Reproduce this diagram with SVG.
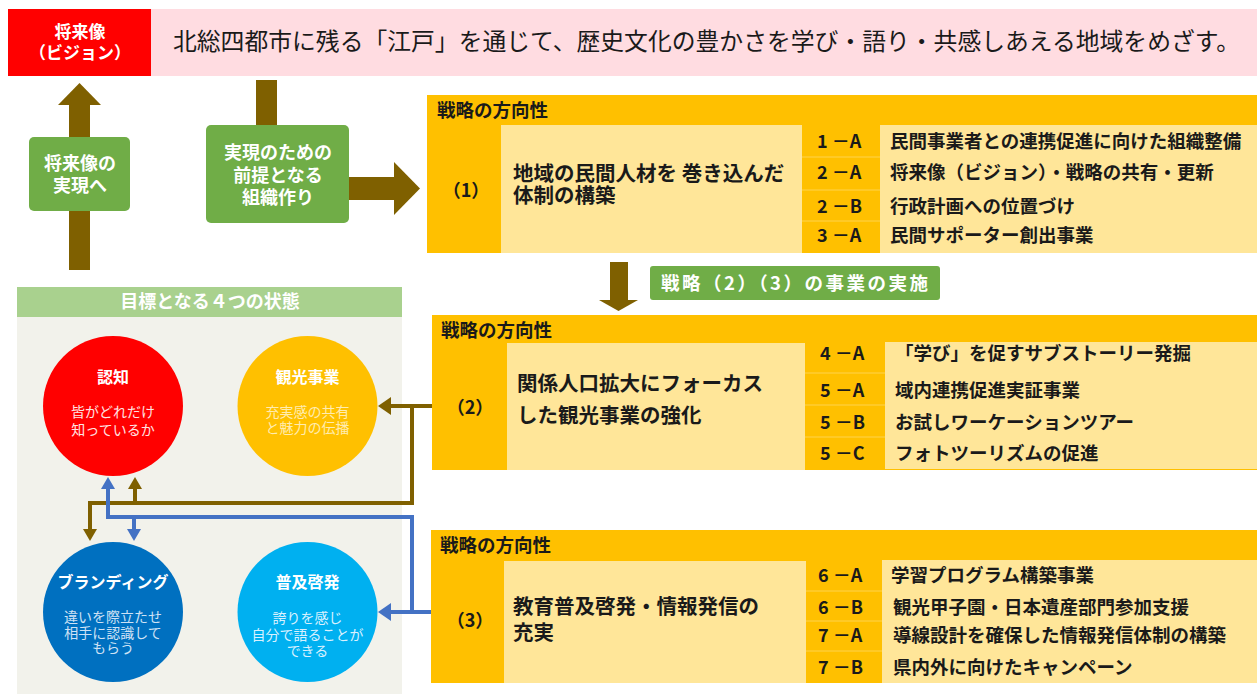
<svg xmlns="http://www.w3.org/2000/svg" width="1257" height="694" viewBox="0 0 1257 694">
<style>
text{font-family:"Noto Sans CJK JP","Noto Sans CJK SC",sans-serif;}
.b{font-weight:bold;}
.w{fill:#ffffff;}
.hdr{font-size:18.5px;font-weight:bold;fill:#1a1a1a;}
.num{font-size:18px;font-weight:bold;fill:#1a1a1a;text-anchor:middle;}
.main{font-size:20.5px;font-weight:bold;fill:#1a1a1a;}
.code{font-size:18px;font-weight:bold;fill:#1a1a1a;}
.item{font-size:18.5px;font-weight:bold;fill:#1a1a1a;}
.yel{fill:#FFC000;}
.lt{fill:#FFE699;}
.grn{fill:#70AD47;}
.sep{stroke:#FFD34D;stroke-width:1;}
.ctitle{font-size:16px;font-weight:bold;fill:#ffffff;text-anchor:middle;}
.csub{font-size:14px;text-anchor:middle;}
.brn{fill:#7F6000;}
.lb{stroke:#7F6000;stroke-width:4;fill:none;}
.lbl{stroke:#4472C4;stroke-width:4;fill:none;}
</style>

<rect x="0" y="0" width="1257" height="694" fill="#ffffff"/>

<g id="vision">
  <rect x="8" y="9" width="143" height="67" fill="#FF0000"/>
  <text class="b w" font-size="17" text-anchor="middle"><tspan x="80" y="38">将来像</tspan><tspan x="80" y="59">（ビジョン）</tspan></text>
</g>
<g id="vision-text">
  <rect x="151" y="9" width="1106" height="67" fill="#FFDCE1"/>
  <text x="173" y="50" font-size="23.5" fill="#1a1a1a" textLength="1067" lengthAdjust="spacingAndGlyphs">北総四都市に残る「江戸」を通じて、歴史文化の豊かさを学び・語り・共感しあえる地域をめざす。</text>
</g>

<g id="arrows-big">
  <rect x="69" y="104" width="21" height="166" class="brn"/>
  <polygon points="58,105 101,105 79.5,83" class="brn"/>
  <rect x="256" y="80" width="21" height="46" class="brn"/>
  <rect x="348" y="177" width="47" height="23" class="brn"/>
  <polygon points="394,162 394,215 420,188.5" class="brn"/>
  <rect x="610" y="262" width="18" height="39" class="brn"/>
  <polygon points="599,300 638,300 618.5,311" class="brn"/>
</g>

<g id="realize">
  <rect x="29" y="137" width="101" height="74" rx="5" class="grn"/>
  <text class="b w" font-size="18" text-anchor="middle"><tspan x="80" y="170">将来像の</tspan><tspan x="80" y="192">実現へ</tspan></text>
</g>

<g id="org">
  <rect x="206" y="125" width="143" height="98" rx="5" class="grn"/>
  <text class="b w" font-size="18" text-anchor="middle"><tspan x="278" y="159">実現のための</tspan><tspan x="278" y="181.5">前提となる</tspan><tspan x="278" y="204">組織作り</tspan></text>
</g>

<g id="strategy1">
  <rect x="427" y="95" width="830" height="158" class="yel"/>
  <text x="437" y="117" class="hdr">戦略の方向性</text>
  <rect x="501" y="125" width="301" height="128" class="lt"/>
  <rect x="880" y="125" width="377" height="128" class="lt"/>
  <line x1="802" y1="157" x2="880" y2="157" class="sep"/>
  <line x1="802" y1="190" x2="880" y2="190" class="sep"/>
  <line x1="802" y1="221" x2="880" y2="221" class="sep"/>
  <text x="466" y="197" class="num">（1）</text>
  <text class="main"><tspan x="513" y="181">地域の民間人材を 巻き込んだ</tspan><tspan x="513" y="203">体制の構築</tspan></text>
  <text x="817" y="148" class="code">1 －A</text>
  <text x="817" y="179" class="code">2 －A</text>
  <text x="817" y="213" class="code">2 －B</text>
  <text x="817" y="242" class="code">3 －A</text>
  <text x="890" y="148" class="item">民間事業者との連携促進に向けた組織整備</text>
  <text x="890" y="179" class="item">将来像（ビジョン）・戦略の共有・更新</text>
  <text x="890" y="213" class="item">行政計画への位置づけ</text>
  <text x="890" y="242" class="item">民間サポーター創出事業</text>
</g>

<g id="implement">
  <rect x="650" y="266" width="290" height="34" rx="3" class="grn"/>
  <text x="661" y="290" class="b w" font-size="18.5" textLength="267">戦略（2）（3）の事業の実施</text>
</g>

<g id="strategy2">
  <rect x="432" y="315" width="825" height="155" class="yel"/>
  <text x="441" y="337" class="hdr">戦略の方向性</text>
  <rect x="507" y="343" width="298" height="127" class="lt"/>
  <rect x="885" y="342" width="372" height="127" class="lt"/>
  <line x1="805" y1="373" x2="885" y2="373" class="sep"/>
  <line x1="805" y1="405" x2="885" y2="405" class="sep"/>
  <line x1="805" y1="437" x2="885" y2="437" class="sep"/>
  <text x="470" y="414" class="num">（2）</text>
  <text class="main"><tspan x="517" y="391">関係人口拡大にフォーカス</tspan><tspan x="517" y="423">した観光事業の強化</tspan></text>
  <text x="820" y="360" class="code">4 －A</text>
  <text x="820" y="397" class="code">5 －A</text>
  <text x="820" y="429" class="code">5 －B</text>
  <text x="820" y="460" class="code">5 －C</text>
  <text x="895" y="360" class="item">「学び」を促すサブストーリー発掘</text>
  <text x="895" y="397" class="item">域内連携促進実証事業</text>
  <text x="895" y="429" class="item">お試しワーケーションツアー</text>
  <text x="895" y="460" class="item">フォトツーリズムの促進</text>
</g>

<g id="strategy3">
  <rect x="431" y="530" width="826" height="153" class="yel"/>
  <text x="440" y="552" class="hdr">戦略の方向性</text>
  <rect x="504" y="561" width="302" height="122" class="lt"/>
  <rect x="882" y="560" width="375" height="123" class="lt"/>
  <line x1="806" y1="591" x2="882" y2="591" class="sep"/>
  <line x1="806" y1="621" x2="882" y2="621" class="sep"/>
  <line x1="806" y1="651" x2="882" y2="651" class="sep"/>
  <text x="470" y="627" class="num">（3）</text>
  <text class="main"><tspan x="513" y="614">教育普及啓発・情報発信の</tspan><tspan x="513" y="640">充実</tspan></text>
  <text x="818" y="582" class="code">6 －A</text>
  <text x="818" y="614" class="code">6 －B</text>
  <text x="818" y="642" class="code">7 －A</text>
  <text x="818" y="674" class="code">7 －B</text>
  <text x="891" y="582" class="item">学習プログラム構築事業</text>
  <text x="893" y="614" class="item">観光甲子園・日本遺産部門参加支援</text>
  <text x="893" y="642" class="item">導線設計を確保した情報発信体制の構築</text>
  <text x="893" y="674" class="item">県内外に向けたキャンペーン</text>
</g>

<g id="goals-panel">
  <rect x="17" y="316" width="385" height="378" fill="#F2F2EB"/>
  <rect x="17" y="287" width="385" height="30" fill="#A9D18E"/>
  <text x="210" y="308" class="b w" font-size="18" text-anchor="middle">目標となる４つの状態</text>
</g>

<g id="ninchi">
  <circle cx="113" cy="406" r="70" fill="#FF0000"/>
  <text x="113" y="383" class="ctitle">認知</text>
  <text class="csub" fill="#FFE3E3"><tspan x="113" y="417">皆がどれだけ</tspan><tspan x="113" y="435">知っているか</tspan></text>
</g>
<g id="kanko">
  <circle cx="307.5" cy="406" r="70" fill="#FFC000"/>
  <text x="307.5" y="383" class="ctitle">観光事業</text>
  <text class="csub" fill="#FFECB0"><tspan x="307.5" y="417">充実感の共有</tspan><tspan x="307.5" y="433">と魅力の伝播</tspan></text>
</g>
<g id="branding">
  <circle cx="113" cy="612" r="70" fill="#0070C0"/>
  <text x="113" y="588" class="ctitle">ブランディング</text>
  <text class="csub" fill="#CFE2F5"><tspan x="113" y="622">違いを際立たせ</tspan><tspan x="113" y="638">相手に認識して</tspan><tspan x="113" y="653">もらう</tspan></text>
</g>
<g id="fukyu">
  <circle cx="307.5" cy="612" r="70" fill="#00B0F0"/>
  <text x="307.5" y="588" class="ctitle">普及啓発</text>
  <text class="csub" fill="#D9F1FF"><tspan x="307.5" y="623">誇りを感じ</tspan><tspan x="307.5" y="640">自分で語ることが</tspan><tspan x="307.5" y="656">できる</tspan></text>
</g>

<g id="connectors">
  <polyline points="432,406 390,406" class="lb"/>
  <polygon points="391,397 391,415 378,406" fill="#7F6000"/>
  <polyline points="412,406 412,503 90,503 90,530" class="lb"/>
  <polygon points="83,529 97,529 90,541" fill="#7F6000"/>
  <polyline points="135,503 135,488" class="lb"/>
  <polygon points="128,489 142,489 135,477" fill="#7F6000"/>
  <polyline points="431,612 390,612" class="lbl"/>
  <polygon points="391,603 391,621 378,612" fill="#4472C4"/>
  <polyline points="412,612 412,517 108,517 108,488" class="lbl"/>
  <polygon points="101,489 115,489 108,477" fill="#4472C4"/>
  <polyline points="134,517 134,530" class="lbl"/>
  <polygon points="127,529 141,529 134,541" fill="#4472C4"/>
</g>
</svg>
